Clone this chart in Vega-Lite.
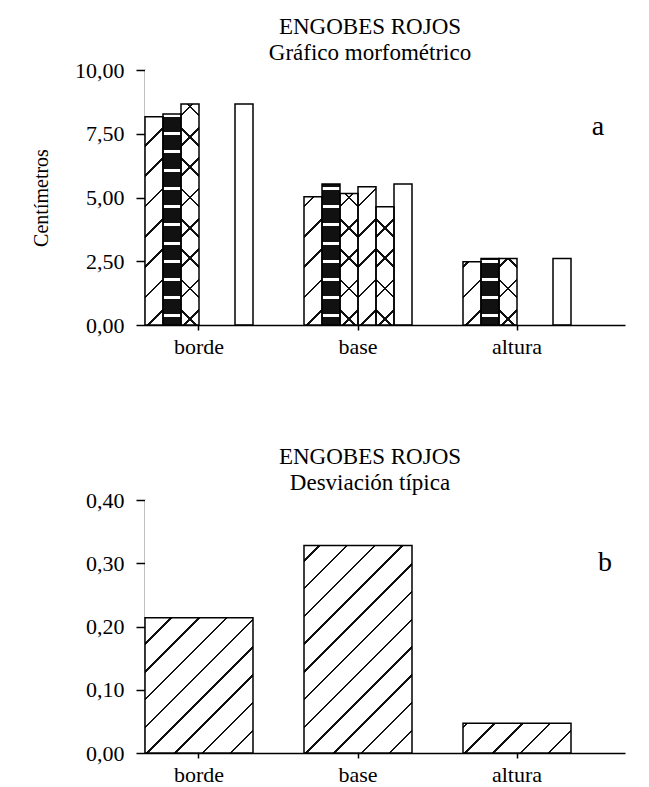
{
  "$schema": "https://vega.github.io/schema/vega-lite/v6.json",
  "padding": {"left": 31, "top": 16, "right": 5, "bottom": 0},
  "background": "white",
  "bounds": "flush",
  "spacing": 175,
  "config": {
    "font": "Liberation Serif",
    "view": {"stroke": null},
    "axis": {
      "labelFont": "Liberation Serif", "labelFontSize": 22, "labelColor": "black",
      "domainColor": "black", "tickColor": "black", "domainWidth": 1.5, "tickWidth": 1.5,
      "grid": false, "zindex": 1,
      "titleFont": "Liberation Serif", "titleFontWeight": "normal", "titleColor": "black"
    },
    "title": {
      "font": "Liberation Serif", "fontSize": 23, "fontWeight": "normal", "color": "black",
      "subtitleFont": "Liberation Serif", "subtitleFontSize": 23, "subtitleColor": "black",
      "subtitlePadding": 3, "offset": -6, "dx": -15
    }
  },
  "vconcat": [
    {
      "width": 480,
      "height": 255,
      "title": {"text": "ENGOBES ROJOS", "subtitle": "Gráfico morfométrico"},
      "data": {
        "values": [
          {"grupo": "borde", "serie": "T1", "valor": 8.17},
          {"grupo": "borde", "serie": "T2", "valor": 8.27},
          {"grupo": "borde", "serie": "T3", "valor": 8.67},
          {"grupo": "borde", "serie": "T6", "valor": 8.67},
          {"grupo": "base", "serie": "T1", "valor": 5.03},
          {"grupo": "base", "serie": "T2", "valor": 5.53},
          {"grupo": "base", "serie": "T3", "valor": 5.16},
          {"grupo": "base", "serie": "T4", "valor": 5.42},
          {"grupo": "base", "serie": "T5", "valor": 4.64},
          {"grupo": "base", "serie": "T6", "valor": 5.53},
          {"grupo": "altura", "serie": "T1", "valor": 2.48},
          {"grupo": "altura", "serie": "T2", "valor": 2.61},
          {"grupo": "altura", "serie": "T3", "valor": 2.61},
          {"grupo": "altura", "serie": "T6", "valor": 2.61}
        ]
      },
      "layer": [
        {
          "transform": [{"filter": {"field": "serie", "oneOf": ["T1", "T3", "T4", "T5"]}}],
          "mark": {
            "type": "bar", "strokeWidth": 0,
            "fill": {
              "gradient": "linear", "x1": 0, "y1": 0, "x2": 0.0752, "y2": 1.0653,
              "stops": [
                {"offset": 0, "color": "white"},
                {"offset": 0.0511, "color": "white"}, {"offset": 0.0511, "color": "#111"}, {"offset": 0.0601, "color": "#111"}, {"offset": 0.0601, "color": "white"},
                {"offset": 0.1622, "color": "white"}, {"offset": 0.1622, "color": "#111"}, {"offset": 0.1712, "color": "#111"}, {"offset": 0.1712, "color": "white"},
                {"offset": 0.2733, "color": "white"}, {"offset": 0.2733, "color": "#111"}, {"offset": 0.2823, "color": "#111"}, {"offset": 0.2823, "color": "white"},
                {"offset": 0.3844, "color": "white"}, {"offset": 0.3844, "color": "#111"}, {"offset": 0.3934, "color": "#111"}, {"offset": 0.3934, "color": "white"},
                {"offset": 0.4955, "color": "white"}, {"offset": 0.4955, "color": "#111"}, {"offset": 0.5045, "color": "#111"}, {"offset": 0.5045, "color": "white"},
                {"offset": 0.6066, "color": "white"}, {"offset": 0.6066, "color": "#111"}, {"offset": 0.6156, "color": "#111"}, {"offset": 0.6156, "color": "white"},
                {"offset": 0.7177, "color": "white"}, {"offset": 0.7177, "color": "#111"}, {"offset": 0.7267, "color": "#111"}, {"offset": 0.7267, "color": "white"},
                {"offset": 0.8288, "color": "white"}, {"offset": 0.8288, "color": "#111"}, {"offset": 0.8378, "color": "#111"}, {"offset": 0.8378, "color": "white"},
                {"offset": 0.9399, "color": "white"}, {"offset": 0.9399, "color": "#111"}, {"offset": 0.9489, "color": "#111"}, {"offset": 0.9489, "color": "white"},
                {"offset": 1, "color": "white"}
              ]
            }
          },
          "encoding": {
            "x": {"field": "grupo", "type": "nominal", "sort": ["borde", "base", "altura"], "scale": {"domain": ["borde", "base", "altura"], "paddingInner": 0.320755, "paddingOuter": 0.169811, "align": 0},
              "axis": {"title": null, "labelAngle": 0, "tickSize": 5, "labelPadding": 6}},
            "xOffset": {"field": "serie", "type": "nominal", "scale": {"domain": ["T1", "T2", "T3", "T4", "T5", "T6"], "paddingInner": 0, "paddingOuter": 0}},
            "y": {"datum": 10, "type": "quantitative", "scale": {"domain": [0, 10], "nice": false},
              "axis": {"title": "Centímetros", "titleFontSize": 20, "titlePadding": 23, "values": [0, 2.5, 5, 7.5, 10],
                "labelExpr": "replace(format(datum.value, '.2f'), '.', ',')", "tickSize": 9, "labelPadding": 12}},
            "y2": {"datum": 0}
          }
        },
        {
          "transform": [{"filter": {"field": "serie", "oneOf": ["T3", "T5"]}}],
          "mark": {
            "type": "bar", "strokeWidth": 0,
            "fill": {
              "gradient": "linear", "x1": 0, "y1": 1, "x2": 0.0752, "y2": -0.0653,
              "stops": [
                {"offset": 0, "color": "rgba(0,0,0,0)"},
                {"offset": 0.0511, "color": "rgba(0,0,0,0)"}, {"offset": 0.0511, "color": "#111"}, {"offset": 0.0601, "color": "#111"}, {"offset": 0.0601, "color": "rgba(0,0,0,0)"},
                {"offset": 0.1622, "color": "rgba(0,0,0,0)"}, {"offset": 0.1622, "color": "#111"}, {"offset": 0.1712, "color": "#111"}, {"offset": 0.1712, "color": "rgba(0,0,0,0)"},
                {"offset": 0.2733, "color": "rgba(0,0,0,0)"}, {"offset": 0.2733, "color": "#111"}, {"offset": 0.2823, "color": "#111"}, {"offset": 0.2823, "color": "rgba(0,0,0,0)"},
                {"offset": 0.3844, "color": "rgba(0,0,0,0)"}, {"offset": 0.3844, "color": "#111"}, {"offset": 0.3934, "color": "#111"}, {"offset": 0.3934, "color": "rgba(0,0,0,0)"},
                {"offset": 0.4955, "color": "rgba(0,0,0,0)"}, {"offset": 0.4955, "color": "#111"}, {"offset": 0.5045, "color": "#111"}, {"offset": 0.5045, "color": "rgba(0,0,0,0)"},
                {"offset": 0.6066, "color": "rgba(0,0,0,0)"}, {"offset": 0.6066, "color": "#111"}, {"offset": 0.6156, "color": "#111"}, {"offset": 0.6156, "color": "rgba(0,0,0,0)"},
                {"offset": 0.7177, "color": "rgba(0,0,0,0)"}, {"offset": 0.7177, "color": "#111"}, {"offset": 0.7267, "color": "#111"}, {"offset": 0.7267, "color": "rgba(0,0,0,0)"},
                {"offset": 0.8288, "color": "rgba(0,0,0,0)"}, {"offset": 0.8288, "color": "#111"}, {"offset": 0.8378, "color": "#111"}, {"offset": 0.8378, "color": "rgba(0,0,0,0)"},
                {"offset": 0.9399, "color": "rgba(0,0,0,0)"}, {"offset": 0.9399, "color": "#111"}, {"offset": 0.9489, "color": "#111"}, {"offset": 0.9489, "color": "rgba(0,0,0,0)"},
                {"offset": 1, "color": "rgba(0,0,0,0)"}
              ]
            }
          },
          "encoding": {
            "x": {"field": "grupo", "type": "nominal", "sort": ["borde", "base", "altura"], "scale": {"domain": ["borde", "base", "altura"], "paddingInner": 0.320755, "paddingOuter": 0.169811, "align": 0},
              "axis": {"title": null, "labelAngle": 0, "tickSize": 5, "labelPadding": 6}},
            "xOffset": {"field": "serie", "type": "nominal", "scale": {"domain": ["T1", "T2", "T3", "T4", "T5", "T6"], "paddingInner": 0, "paddingOuter": 0}},
            "y": {"datum": 10, "type": "quantitative", "scale": {"domain": [0, 10], "nice": false},
              "axis": {"title": "Centímetros", "titleFontSize": 20, "titlePadding": 23, "values": [0, 2.5, 5, 7.5, 10],
                "labelExpr": "replace(format(datum.value, '.2f'), '.', ',')", "tickSize": 9, "labelPadding": 12}},
            "y2": {"datum": 0}
          }
        },
        {
          "transform": [{"filter": {"field": "serie", "equal": "T2"}}],
          "mark": {
            "type": "bar", "strokeWidth": 0,
            "fill": {
              "gradient": "linear", "x1": 0, "y1": 0, "x2": 0, "y2": 1,
              "stops": [
                {"offset": 0, "color": "#111"},
                {"offset": 0.0297, "color": "#111"}, {"offset": 0.0297, "color": "white"}, {"offset": 0.0417, "color": "white"}, {"offset": 0.0417, "color": "#111"},
                {"offset": 0.1011, "color": "#111"}, {"offset": 0.1011, "color": "white"}, {"offset": 0.1131, "color": "white"}, {"offset": 0.1131, "color": "#111"},
                {"offset": 0.1726, "color": "#111"}, {"offset": 0.1726, "color": "white"}, {"offset": 0.1846, "color": "white"}, {"offset": 0.1846, "color": "#111"},
                {"offset": 0.244, "color": "#111"}, {"offset": 0.244, "color": "white"}, {"offset": 0.256, "color": "white"}, {"offset": 0.256, "color": "#111"},
                {"offset": 0.3154, "color": "#111"}, {"offset": 0.3154, "color": "white"}, {"offset": 0.3274, "color": "white"}, {"offset": 0.3274, "color": "#111"},
                {"offset": 0.3869, "color": "#111"}, {"offset": 0.3869, "color": "white"}, {"offset": 0.3989, "color": "white"}, {"offset": 0.3989, "color": "#111"},
                {"offset": 0.4583, "color": "#111"}, {"offset": 0.4583, "color": "white"}, {"offset": 0.4703, "color": "white"}, {"offset": 0.4703, "color": "#111"},
                {"offset": 0.5297, "color": "#111"}, {"offset": 0.5297, "color": "white"}, {"offset": 0.5417, "color": "white"}, {"offset": 0.5417, "color": "#111"},
                {"offset": 0.6011, "color": "#111"}, {"offset": 0.6011, "color": "white"}, {"offset": 0.6131, "color": "white"}, {"offset": 0.6131, "color": "#111"},
                {"offset": 0.6726, "color": "#111"}, {"offset": 0.6726, "color": "white"}, {"offset": 0.6846, "color": "white"}, {"offset": 0.6846, "color": "#111"},
                {"offset": 0.744, "color": "#111"}, {"offset": 0.744, "color": "white"}, {"offset": 0.756, "color": "white"}, {"offset": 0.756, "color": "#111"},
                {"offset": 0.8154, "color": "#111"}, {"offset": 0.8154, "color": "white"}, {"offset": 0.8274, "color": "white"}, {"offset": 0.8274, "color": "#111"},
                {"offset": 0.8869, "color": "#111"}, {"offset": 0.8869, "color": "white"}, {"offset": 0.8989, "color": "white"}, {"offset": 0.8989, "color": "#111"},
                {"offset": 0.9583, "color": "#111"}, {"offset": 0.9583, "color": "white"}, {"offset": 0.9703, "color": "white"}, {"offset": 0.9703, "color": "#111"},
                {"offset": 1, "color": "#111"}
              ]
            }
          },
          "encoding": {
            "x": {"field": "grupo", "type": "nominal", "sort": ["borde", "base", "altura"], "scale": {"domain": ["borde", "base", "altura"], "paddingInner": 0.320755, "paddingOuter": 0.169811, "align": 0},
              "axis": {"title": null, "labelAngle": 0, "tickSize": 5, "labelPadding": 6}},
            "xOffset": {"field": "serie", "type": "nominal", "scale": {"domain": ["T1", "T2", "T3", "T4", "T5", "T6"], "paddingInner": 0, "paddingOuter": 0}},
            "y": {"datum": 10, "type": "quantitative", "scale": {"domain": [0, 10], "nice": false},
              "axis": {"title": "Centímetros", "titleFontSize": 20, "titlePadding": 23, "values": [0, 2.5, 5, 7.5, 10],
                "labelExpr": "replace(format(datum.value, '.2f'), '.', ',')", "tickSize": 9, "labelPadding": 12}},
            "y2": {"datum": 0}
          }
        },
        {
          "transform": [{"filter": {"field": "serie", "oneOf": ["T1", "T2", "T3", "T4", "T5"]}}],
          "mark": {"type": "bar", "fill": "white", "strokeWidth": 0},
          "encoding": {
            "x": {"field": "grupo", "type": "nominal", "sort": ["borde", "base", "altura"], "scale": {"domain": ["borde", "base", "altura"], "paddingInner": 0.320755, "paddingOuter": 0.169811, "align": 0},
              "axis": {"title": null, "labelAngle": 0, "tickSize": 5, "labelPadding": 6}},
            "xOffset": {"field": "serie", "type": "nominal", "scale": {"domain": ["T1", "T2", "T3", "T4", "T5", "T6"], "paddingInner": 0, "paddingOuter": 0}},
            "y": {"field": "valor", "type": "quantitative", "scale": {"domain": [0, 10], "nice": false},
              "axis": {"title": "Centímetros", "titleFontSize": 20, "titlePadding": 23, "values": [0, 2.5, 5, 7.5, 10],
                "labelExpr": "replace(format(datum.value, '.2f'), '.', ',')", "tickSize": 9, "labelPadding": 12}},
            "y2": {"datum": 10}
          }
        },
        {
          "mark": {"type": "bar", "fill": "transparent", "stroke": "black", "strokeWidth": 1.5},
          "encoding": {
            "x": {"field": "grupo", "type": "nominal", "sort": ["borde", "base", "altura"], "scale": {"domain": ["borde", "base", "altura"], "paddingInner": 0.320755, "paddingOuter": 0.169811, "align": 0},
              "axis": {"title": null, "labelAngle": 0, "tickSize": 5, "labelPadding": 6}},
            "xOffset": {"field": "serie", "type": "nominal", "scale": {"domain": ["T1", "T2", "T3", "T4", "T5", "T6"], "paddingInner": 0, "paddingOuter": 0}},
            "y": {"field": "valor", "type": "quantitative", "scale": {"domain": [0, 10], "nice": false},
              "axis": {"title": "Centímetros", "titleFontSize": 20, "titlePadding": 23, "values": [0, 2.5, 5, 7.5, 10],
                "labelExpr": "replace(format(datum.value, '.2f'), '.', ',')", "tickSize": 9, "labelPadding": 12}}
          }
        },
        {
          "data": {"values": [{"etiqueta": "a"}]},
          "mark": {"type": "text", "font": "Liberation Serif", "fontSize": 28, "dx": 81, "align": "center", "baseline": "middle", "color": "black"},
          "encoding": {
            "x": {"datum": "altura", "type": "nominal", "scale": {"domain": ["borde", "base", "altura"], "paddingInner": 0.320755, "paddingOuter": 0.169811, "align": 0},
              "axis": {"title": null, "labelAngle": 0, "tickSize": 5, "labelPadding": 6}},
            "y": {"datum": 7.75, "type": "quantitative", "scale": {"domain": [0, 10], "nice": false},
              "axis": {"title": "Centímetros", "titleFontSize": 20, "titlePadding": 23, "values": [0, 2.5, 5, 7.5, 10],
                "labelExpr": "replace(format(datum.value, '.2f'), '.', ',')", "tickSize": 9, "labelPadding": 12}},
            "text": {"field": "etiqueta"}
          }
        }
      ]
    },
    {
      "width": 480,
      "height": 253,
      "title": {"text": "ENGOBES ROJOS", "subtitle": "Desviación típica"},
      "data": {
        "values": [
          {"grupo": "borde", "desviacion": 0.214},
          {"grupo": "base", "desviacion": 0.328},
          {"grupo": "altura", "desviacion": 0.047}
        ]
      },
      "layer": [
        {
          "mark": {
            "type": "bar", "strokeWidth": 0,
            "fill": {
              "gradient": "linear", "x1": 0, "y1": 0, "x2": 0.5152, "y2": 1.2069,
              "stops": [
                {"offset": 0, "color": "white"},
                {"offset": 0.011, "color": "white"}, {"offset": 0.011, "color": "#111"}, {"offset": 0.018, "color": "#111"}, {"offset": 0.018, "color": "white"},
                {"offset": 0.0879, "color": "white"}, {"offset": 0.0879, "color": "#111"}, {"offset": 0.0949, "color": "#111"}, {"offset": 0.0949, "color": "white"},
                {"offset": 0.1648, "color": "white"}, {"offset": 0.1648, "color": "#111"}, {"offset": 0.1718, "color": "#111"}, {"offset": 0.1718, "color": "white"},
                {"offset": 0.2418, "color": "white"}, {"offset": 0.2418, "color": "#111"}, {"offset": 0.2488, "color": "#111"}, {"offset": 0.2488, "color": "white"},
                {"offset": 0.3187, "color": "white"}, {"offset": 0.3187, "color": "#111"}, {"offset": 0.3257, "color": "#111"}, {"offset": 0.3257, "color": "white"},
                {"offset": 0.3956, "color": "white"}, {"offset": 0.3956, "color": "#111"}, {"offset": 0.4026, "color": "#111"}, {"offset": 0.4026, "color": "white"},
                {"offset": 0.4725, "color": "white"}, {"offset": 0.4725, "color": "#111"}, {"offset": 0.4795, "color": "#111"}, {"offset": 0.4795, "color": "white"},
                {"offset": 0.5494, "color": "white"}, {"offset": 0.5494, "color": "#111"}, {"offset": 0.5564, "color": "#111"}, {"offset": 0.5564, "color": "white"},
                {"offset": 0.6264, "color": "white"}, {"offset": 0.6264, "color": "#111"}, {"offset": 0.6334, "color": "#111"}, {"offset": 0.6334, "color": "white"},
                {"offset": 0.7033, "color": "white"}, {"offset": 0.7033, "color": "#111"}, {"offset": 0.7103, "color": "#111"}, {"offset": 0.7103, "color": "white"},
                {"offset": 0.7802, "color": "white"}, {"offset": 0.7802, "color": "#111"}, {"offset": 0.7872, "color": "#111"}, {"offset": 0.7872, "color": "white"},
                {"offset": 0.8571, "color": "white"}, {"offset": 0.8571, "color": "#111"}, {"offset": 0.8641, "color": "#111"}, {"offset": 0.8641, "color": "white"},
                {"offset": 0.9341, "color": "white"}, {"offset": 0.9341, "color": "#111"}, {"offset": 0.9411, "color": "#111"}, {"offset": 0.9411, "color": "white"},
                {"offset": 1, "color": "white"}
              ]
            }
          },
          "encoding": {
            "x": {"field": "grupo", "type": "nominal", "sort": ["borde", "base", "altura"], "scale": {"domain": ["borde", "base", "altura"], "paddingInner": 0.320755, "paddingOuter": 0.169811, "align": 0},
              "axis": {"title": null, "labelAngle": 0, "tickSize": 5, "labelPadding": 6}},
            "y": {"datum": 0.4, "type": "quantitative", "scale": {"domain": [0, 0.4], "nice": false},
              "axis": {"title": null, "values": [0, 0.1, 0.2, 0.3, 0.4],
                "labelExpr": "replace(format(datum.value, '.2f'), '.', ',')", "tickSize": 9, "labelPadding": 12}},
            "y2": {"datum": 0}
          }
        },
        {
          "mark": {"type": "bar", "fill": "white", "strokeWidth": 0},
          "encoding": {
            "x": {"field": "grupo", "type": "nominal", "sort": ["borde", "base", "altura"], "scale": {"domain": ["borde", "base", "altura"], "paddingInner": 0.320755, "paddingOuter": 0.169811, "align": 0},
              "axis": {"title": null, "labelAngle": 0, "tickSize": 5, "labelPadding": 6}},
            "y": {"field": "desviacion", "type": "quantitative", "scale": {"domain": [0, 0.4], "nice": false},
              "axis": {"title": null, "values": [0, 0.1, 0.2, 0.3, 0.4],
                "labelExpr": "replace(format(datum.value, '.2f'), '.', ',')", "tickSize": 9, "labelPadding": 12}},
            "y2": {"datum": 0.4}
          }
        },
        {
          "mark": {"type": "bar", "fill": "transparent", "stroke": "black", "strokeWidth": 1.5},
          "encoding": {
            "x": {"field": "grupo", "type": "nominal", "sort": ["borde", "base", "altura"], "scale": {"domain": ["borde", "base", "altura"], "paddingInner": 0.320755, "paddingOuter": 0.169811, "align": 0},
              "axis": {"title": null, "labelAngle": 0, "tickSize": 5, "labelPadding": 6}},
            "y": {"field": "desviacion", "type": "quantitative", "scale": {"domain": [0, 0.4], "nice": false},
              "axis": {"title": null, "values": [0, 0.1, 0.2, 0.3, 0.4],
                "labelExpr": "replace(format(datum.value, '.2f'), '.', ',')", "tickSize": 9, "labelPadding": 12}}
          }
        },
        {
          "data": {"values": [{"etiqueta": "b"}]},
          "mark": {"type": "text", "font": "Liberation Serif", "fontSize": 28, "dx": 88, "align": "center", "baseline": "middle", "color": "black"},
          "encoding": {
            "x": {"datum": "altura", "type": "nominal", "scale": {"domain": ["borde", "base", "altura"], "paddingInner": 0.320755, "paddingOuter": 0.169811, "align": 0},
              "axis": {"title": null, "labelAngle": 0, "tickSize": 5, "labelPadding": 6}},
            "y": {"datum": 0.3, "type": "quantitative", "scale": {"domain": [0, 0.4], "nice": false},
              "axis": {"title": null, "values": [0, 0.1, 0.2, 0.3, 0.4],
                "labelExpr": "replace(format(datum.value, '.2f'), '.', ',')", "tickSize": 9, "labelPadding": 12}},
            "text": {"field": "etiqueta"}
          }
        }
      ]
    }
  ]
}
